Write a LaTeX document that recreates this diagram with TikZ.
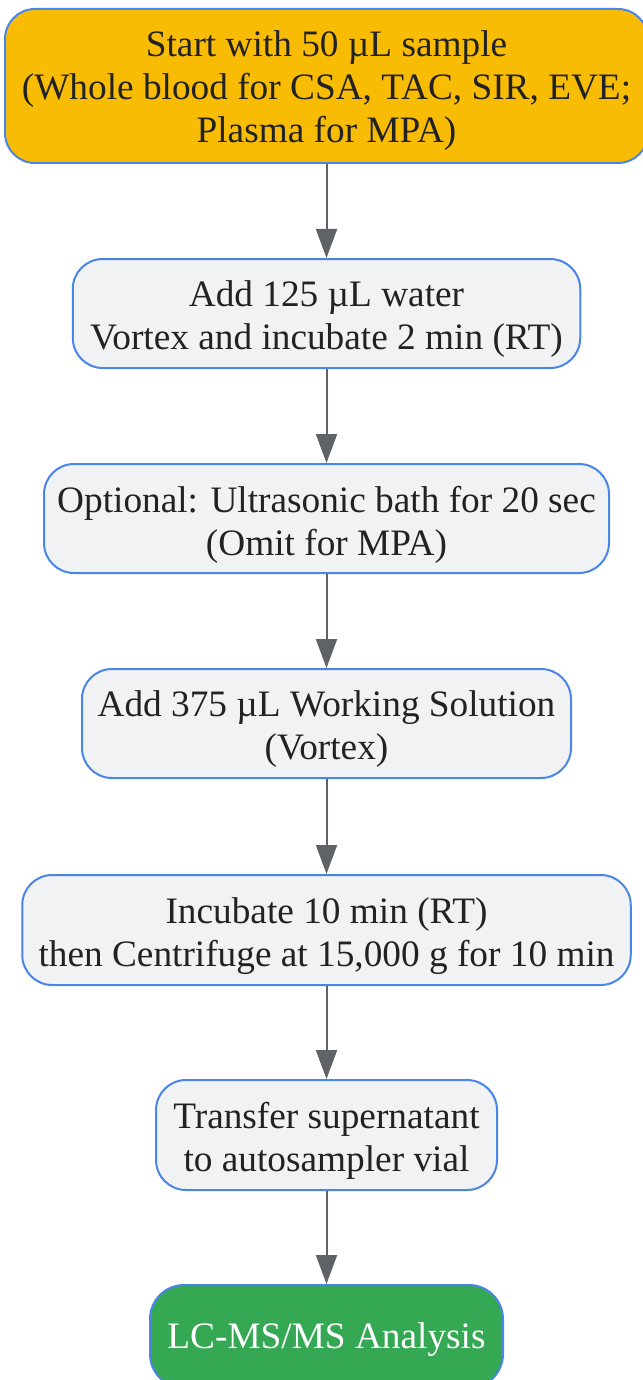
\documentclass[tikz,border=0pt]{standalone}
\usepackage{fontspec}
\setmainfont{Liberation Serif}
\usetikzlibrary{arrows.meta}
\definecolor{bord}{RGB}{74,134,232}
\definecolor{lightbg}{RGB}{241,242,244}
\definecolor{startbg}{RGB}{249,188,5}
\definecolor{endbg}{RGB}{52,168,83}
\definecolor{arr}{RGB}{95,99,104}
\definecolor{txt}{RGB}{34,34,34}
\tikzset{
  stepbox/.style={draw=bord, line width=2pt, fill=lightbg, rounded corners=30pt,
    inner sep=0pt},
  startbox/.style={stepbox, fill=startbg},
  endbox/.style={stepbox, fill=endbg, rounded corners=34pt},
  lbl/.style={inner sep=0pt, align=center, text=txt,
    font=\fontsize{37.3}{43}\selectfont},
  endlbl/.style={lbl, text=white},
  flow/.style={draw=arr, line width=2pt, -{Triangle[length=29pt,width=21pt]}}
}
\begin{document}
\begin{tikzpicture}
\useasboundingbox (0pt,0pt) rectangle (642pt,-1380pt);
\node[startbox, minimum width=643pt, minimum height=154pt] (s) at (326.5pt,-86pt) {};
\node[lbl] (st) at ([yshift=-5pt]s.center)
  {Start with 50 µL sample\\(Whole blood for CSA, TAC, SIR, EVE;\\Plasma for MPA)};
\node[stepbox, minimum width=507.5pt, minimum height=109pt] (a) at (326.5pt,-313.5pt) {};
\node[lbl] (at) at ([yshift=-6pt]a.center)
  {Add 125 µL water\\Vortex and incubate 2 min (RT)};
\node[stepbox, minimum width=565pt, minimum height=109pt] (o) at (326.5pt,-518.5pt) {};
\node[lbl] (ot) at ([yshift=-6pt]o.center)
  {Optional: Ultrasonic bath for 20 sec\\(Omit for MPA)};
\node[stepbox, minimum width=489pt, minimum height=109pt] (w) at (326.5pt,-723.5pt) {};
\node[lbl] (wt) at ([yshift=-6pt]w.center)
  {Add 375 µL Working Solution\\(Vortex)};
\node[stepbox, minimum width=608.5pt, minimum height=110pt] (i) at (326.5pt,-930pt) {};
\node[lbl] (it) at ([yshift=-6pt]i.center)
  {Incubate 10 min (RT)\\then Centrifuge at 15,000 g for 10 min};
\node[stepbox, minimum width=341pt, minimum height=110pt] (t) at (326.5pt,-1135pt) {};
\node[lbl] (tt) at ([yshift=-6pt]t.center)
  {Transfer supernatant\\to autosampler vial};
\node[endbox, minimum width=353pt, minimum height=103pt] (l) at (326.5pt,-1336.5pt) {};
\node[endlbl] (lt) at ([yshift=-3pt]l.center) {LC-MS/MS Analysis};
\draw[flow] (s.south) -- (a.north);
\draw[flow] (a.south) -- (o.north);
\draw[flow] (o.south) -- (w.north);
\draw[flow] (w.south) -- (i.north);
\draw[flow] (i.south) -- (t.north);
\draw[flow] (t.south) -- (l.north);
\end{tikzpicture}
\end{document}
